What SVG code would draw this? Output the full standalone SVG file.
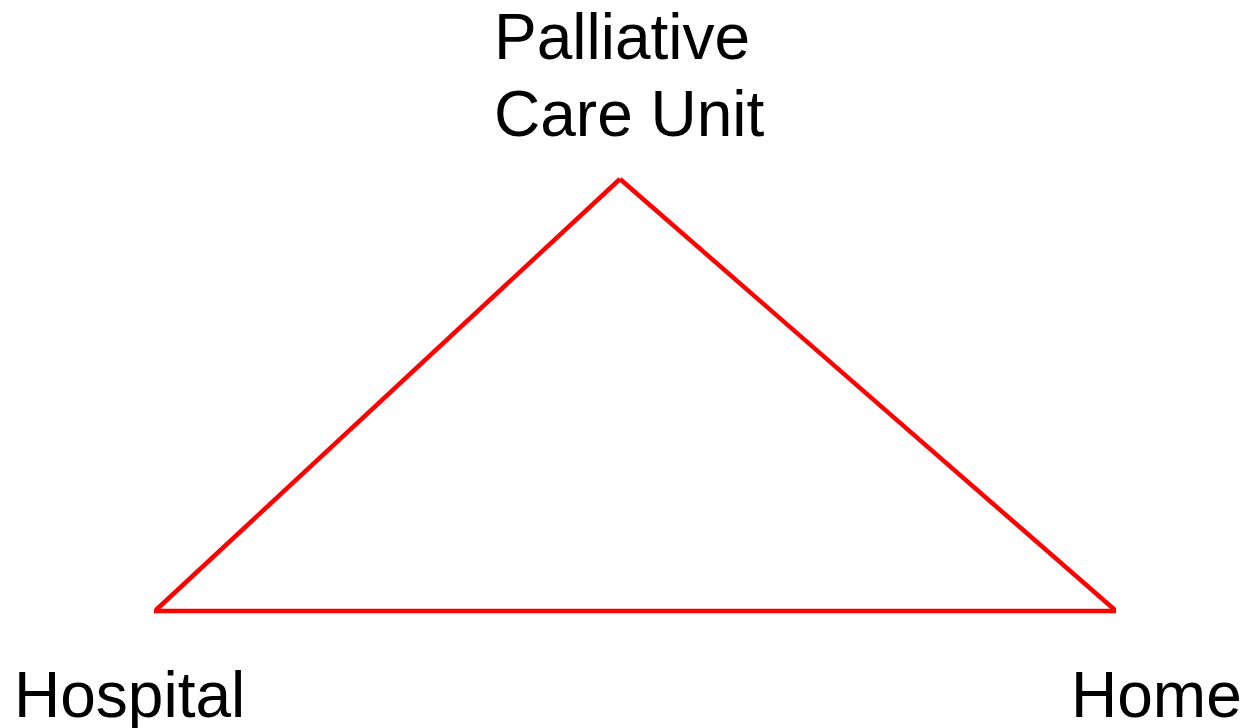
<svg xmlns="http://www.w3.org/2000/svg" width="1247" height="728" viewBox="0 0 1247 728">
<style>
.lbl{font-family:"Liberation Sans",Arial,sans-serif;font-size:64px;fill:#000}
.edge{stroke:#ff0000;stroke-width:4.5;fill:none;stroke-linecap:butt}
</style>
<rect width="1247" height="728" fill="#fff"/>
<g id="connectors">
<line class="edge" x1="156" y1="610" x2="620" y2="179"/>
<line class="edge" x1="620" y1="179" x2="1115" y2="610"/>
<line class="edge" x1="154" y1="611" x2="1116" y2="611"/>
</g>
<g id="node-pcu">
<text class="lbl" x="494" y="59">Palliative</text>
<text class="lbl" x="494" y="136">Care Unit</text>
</g>
<g id="node-hospital">
<text class="lbl" x="14" y="717">Hospital</text>
</g>
<g id="node-home">
<text class="lbl" x="1071" y="717">Home</text>
</g>
</svg>
